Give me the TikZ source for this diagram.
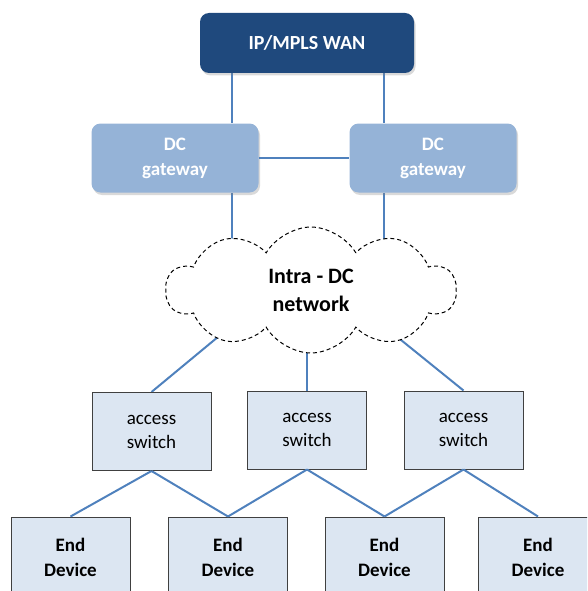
\documentclass[tikz,border=0pt]{standalone}
\usepackage{fontspec}
\setmainfont{Carlito}
\usetikzlibrary{shapes.symbols,shadows,backgrounds}

\definecolor{WanBlue}{RGB}{31,73,125}
\definecolor{GateBlue}{RGB}{149,179,215}
\definecolor{BoxBlue}{RGB}{220,230,242}
\definecolor{LinkBlue}{RGB}{79,129,189}
\definecolor{BoxEdge}{RGB}{64,64,64}

\begin{document}
\begin{tikzpicture}[x=1pt,y=-1pt]
\path[use as bounding box, clip] (0,0) rectangle (587,591);

\coordinate (P_wan) at (307,43);
\coordinate (P_gw1) at (175,158);
\coordinate (P_gw2) at (433,158);
\coordinate (P_net) at (311,290);
\coordinate (P_sw1) at (151.5,431.5);
\coordinate (P_sw2) at (307,430);
\coordinate (P_sw3) at (463.5,430);
\coordinate (P_ed1) at (70.5,557);
\coordinate (P_ed2) at (228,557);
\coordinate (P_ed3) at (384.5,557);
\coordinate (P_ed4) at (538,557);

% where the slanted links run in under the cloud
\coordinate (C_left) at (236,322);
\coordinate (C_right) at (380,323);


\tikzset{WanStyle/.style = {
 rounded corners = 9pt,
 fill = WanBlue,
 text = white,
 font = \fontsize{20}{24}\selectfont\bfseries,
 minimum width = 214pt,
 minimum height = 60pt,
 drop shadow = {shadow xshift=1.5pt, shadow yshift=-2.5pt, opacity=0.3}} }

\tikzset{GateStyle/.style = {
 rounded corners = 9pt,
 fill = GateBlue,
 text = white,
 align = center,
 font = \fontsize{19}{25}\selectfont\bfseries,
 minimum width = 167pt,
 minimum height = 69pt,
 drop shadow = {shadow xshift=1.5pt, shadow yshift=-2.5pt, opacity=0.3}} }

\tikzset{BoxStyle/.style = {
 draw = BoxEdge,
 line width = 1pt,
 fill = BoxBlue,
 align = center,
 minimum width = 119pt,
 minimum height = 78pt} }

\tikzset{LinkStyle/.style = {LinkBlue, line width = 2pt} }

\node[WanStyle] (wan) at (P_wan) {IP/MPLS WAN};
\node[GateStyle] (gw1) at (P_gw1) {DC\\gateway};
\node[GateStyle] (gw2) at (P_gw2) {DC\\gateway};

\node[cloud, cloud puffs = 10, cloud puff arc = 120, cloud ignores aspect,
 draw, dashed, dash pattern = on 4pt off 3pt, line width = 1pt, fill = white,
 minimum width = 290pt, minimum height = 126pt, align = center,
 font = \fontsize{22}{28}\selectfont\bfseries] (net) at (P_net) {Intra - DC\\network};

\node[BoxStyle, font = \fontsize{19}{24}\selectfont] (sw1) at (P_sw1) {access\\switch};
\node[BoxStyle, font = \fontsize{19}{24}\selectfont] (sw2) at (P_sw2) {access\\switch};
\node[BoxStyle, font = \fontsize{19}{24}\selectfont] (sw3) at (P_sw3) {access\\switch};

\node[BoxStyle, minimum height = 80pt, font = \fontsize{19}{25}\selectfont\bfseries] (ed1) at (P_ed1) {End\\Device};
\node[BoxStyle, minimum height = 80pt, font = \fontsize{19}{25}\selectfont\bfseries] (ed2) at (P_ed2) {End\\Device};
\node[BoxStyle, minimum height = 80pt, font = \fontsize{19}{25}\selectfont\bfseries] (ed3) at (P_ed3) {End\\Device};
\node[BoxStyle, minimum height = 80pt, font = \fontsize{19}{25}\selectfont\bfseries] (ed4) at (P_ed4) {End\\Device};


\begin{scope}[on background layer]
\draw[LinkStyle] ([xshift=-27pt]gw1.north east |- wan.center) -- ([xshift=-27pt]gw1.north east);
\draw[LinkStyle] ([xshift=35pt]gw2.north west |- wan.center) -- ([xshift=35pt]gw2.north west);
\draw[LinkStyle] ([xshift=-27pt]gw1.south east) -- ([xshift=-27pt]gw1.south east |- net.center);
\draw[LinkStyle] ([xshift=35pt]gw2.south west) -- ([xshift=35pt]gw2.south west |- net.center);
\draw[LinkStyle] (sw1.north) -- (C_left);
\draw[LinkStyle] (sw2.north) -- (sw2.north |- net.center);
\draw[LinkStyle] (sw3.north) -- (C_right);
\end{scope}

\draw[LinkStyle] (gw1.east) -- (gw2.west);

\draw[LinkStyle] (sw1.south) -- (ed1.north);
\draw[LinkStyle] (sw1.south) -- (ed2.north);
\draw[LinkStyle] (sw2.south) -- (ed2.north);
\draw[LinkStyle] (sw2.south) -- (ed3.north);
\draw[LinkStyle] (sw3.south) -- (ed3.north);
\draw[LinkStyle] (sw3.south) -- (ed4.north);

\end{tikzpicture}
\end{document}
